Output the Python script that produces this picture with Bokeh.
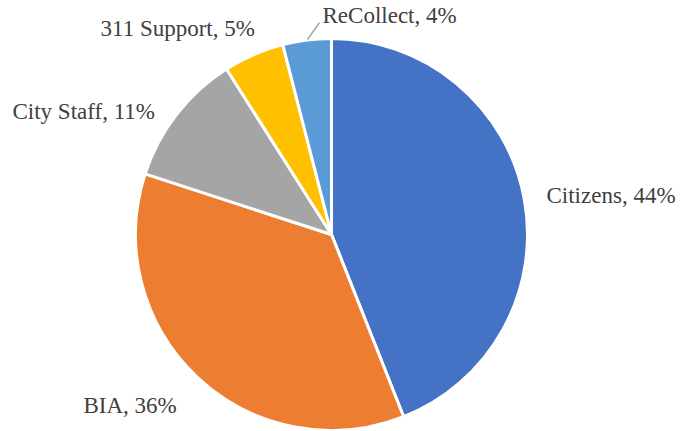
import math
from bokeh.plotting import figure
from bokeh.models import Range1d, ColumnDataSource
from bokeh.core.properties import value
from bokeh.embed import file_html
from bokeh.resources import INLINE

# ---- data ----
categories = ["Citizens", "BIA", "City Staff", "311 Support", "ReCollect"]
shares = [44, 36, 11, 5, 4]
colors = ["#4472C4", "#ED7D31", "#A5A5A5", "#FFC000", "#5B9BD5"]

# ---- layout (pixel coords, y measured from top) ----
W, H = 680, 431
cx, cy_top, R = 331, 234, 196
label_pos = {
    "Citizens": (546, 195),
    "BIA": (83, 405),
    "City Staff": (12, 111),
    "311 Support": (100, 28),
    "ReCollect": (322, 15),
}

def Y(y_top):
    return H - y_top

total = sum(shares)
starts, ends = [], []
cum = 0.0
for s in shares:
    a0 = math.pi / 2 - 2 * math.pi * cum / total
    cum += s
    a1 = math.pi / 2 - 2 * math.pi * cum / total
    starts.append(a0)
    ends.append(a1)

src = ColumnDataSource(dict(cat=categories, val=shares, color=colors,
                            start=starts, end=ends))

p = figure(width=W, height=H, output_backend="svg", toolbar_location=None,
           x_range=Range1d(0, W), y_range=Range1d(0, H), min_border=0)
p.axis.visible = False
p.grid.visible = False
p.outline_line_color = None
p.background_fill_color = "white"

p.wedge(x=cx, y=Y(cy_top), radius=R, radius_units="screen",
        start_angle="start", end_angle="end", direction="clock",
        fill_color="color", line_color="white", line_width=3, source=src)

lx, ly, lt = [], [], []
for c, v in zip(categories, shares):
    x, y = label_pos[c]
    lx.append(x)
    ly.append(Y(y))
    lt.append(f"{c}, {v}%")
p.text(x=lx, y=ly, text=lt, text_font=value("Liberation Serif"),
       text_font_size="23px", text_color="#404040",
       text_baseline="middle", text_align="left")

# leader line for ReCollect
p.segment(x0=[307], y0=[Y(39)], x1=[319], y1=[Y(22)],
          line_color="#A6A6A6", line_width=1.5)

open("out.html", "w").write(file_html(p, INLINE))
